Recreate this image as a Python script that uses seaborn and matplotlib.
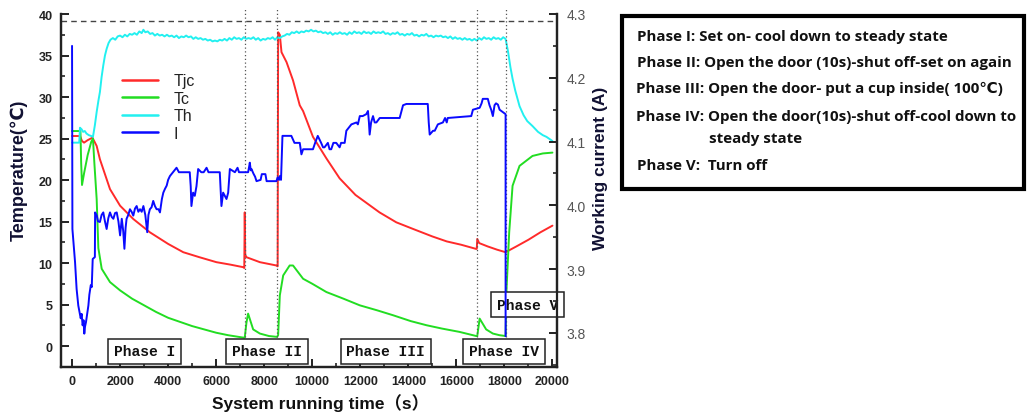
import matplotlib
matplotlib.use("Agg")
import matplotlib.pyplot as plt
import seaborn as sns
import pandas as pd
from matplotlib.patches import Rectangle
from matplotlib.lines import Line2D
from matplotlib.ticker import MultipleLocator

# ---------------- data ----------------
tjc_t = [0, 330, 415, 500, 650, 850, 1025, 1160, 1580, 2000, 2550, 3240, 4000, 4630, 5300, 6010, 6600, 7120, 7170, 7190, 7210,
         7260, 7820, 8510, 8560, 8580, 8650, 8720, 8930, 9200, 9480, 9620, 10030, 10590, 11140, 11800, 12800, 13500, 14200,
         15000, 15600, 16200, 16820, 16850, 16870, 16950, 17300, 17700, 18050, 18500, 19000, 19500, 20000]
tjc_v = [25.3, 25.3, 24.7, 24.5, 24.8, 25.1, 24.1, 22.5, 18.9, 16.9, 15.3, 13.7, 12.3, 11.3, 10.7, 10.1, 9.8, 9.5, 9.4, 16.1, 11.0,
         10.7, 10.1, 9.7, 9.6, 37.8, 37.5, 35.4, 34.2, 32.0, 29.0, 28.3, 25.2, 22.6, 20.2, 18.2, 16.1, 14.9, 14.1,
         13.2, 12.6, 12.2, 11.7, 11.7, 12.9, 12.4, 12.0, 11.6, 11.3, 12.0, 12.8, 13.7, 14.5]

tc_t = [0, 350, 380, 415, 500, 650, 800, 870, 930, 1025, 1095, 1235, 1580, 2000, 2500, 3000, 3500, 4000, 4500, 5000, 5500,
        6000, 6500, 7150, 7190, 7260, 7330, 7540, 7820, 8200, 8530, 8580, 8650, 8790, 9060, 9200, 9620, 10000, 10590,
        11300, 11980, 12700, 13370, 14100, 14760, 15400, 16130, 16830, 16870, 16970, 17240, 17520, 17800, 18050, 18090,
        18200, 18340, 18630, 19170, 19600, 20000]
tc_v = [25.9, 25.9, 22.0, 19.4, 20.8, 23.0, 24.6, 25.0, 22.0, 17.7, 11.8, 9.3, 7.7, 6.7, 5.7, 4.9, 4.1, 3.4, 2.9, 2.4, 2.0,
        1.6, 1.3, 1.0, 1.0, 2.8, 3.9, 2.0, 1.5, 1.2, 1.1, 1.3, 6.1, 8.5, 9.7, 9.7, 8.1, 7.5, 6.5,
        5.7, 4.9, 4.3, 3.7, 3.0, 2.5, 2.1, 1.7, 1.2, 1.2, 3.3, 2.0, 1.5, 1.3, 1.2, 6.9,
        13.7, 19.3, 21.7, 22.9, 23.2, 23.3]

th_points = [(0, 24.5), (300, 24.5), (330, 26.3), (400, 26.1), (460, 25.8), (530, 25.9), (600, 25.6), (700, 25.4), (800, 25.3),
             (870, 25.2), (950, 26.6), (1025, 28.2), (1100, 29.6), (1160, 30.6), (1230, 32.4), (1300, 33.8), (1370, 35.0),
             (1440, 35.8), (1520, 36.5), (1600, 36.9), (1700, 37.1), (1800, 36.9), (1900, 37.3), (2000, 37.4), (2100, 37.2),
             (2200, 37.5), (2300, 37.3), (2400, 37.6), (2500, 37.5), (2600, 37.7), (2700, 37.5), (2800, 37.9), (2900, 37.7),
             (2970, 38.1), (3050, 37.8), (3150, 37.9), (3250, 37.6), (3350, 37.7), (3450, 37.4), (3550, 37.6), (3650, 37.4),
             (3750, 37.5), (3850, 37.3), (3950, 37.5), (4050, 37.3), (4150, 37.4), (4250, 37.2), (4350, 37.4), (4450, 37.1),
             (4550, 37.3), (4650, 37.2), (4750, 37.4), (4850, 37.2), (4950, 37.3), (5050, 37.0), (5150, 37.2), (5250, 37.0),
             (5350, 37.1), (5450, 36.9), (5550, 37.0), (5650, 36.8), (5750, 36.9), (5850, 36.7), (5950, 36.8), (6050, 36.7),
             (6150, 36.9), (6250, 36.8), (6350, 37.0), (6450, 36.8), (6550, 37.1), (6650, 36.9), (6750, 37.2), (6850, 37.0),
             (6950, 37.1), (7050, 36.9), (7150, 37.2), (7250, 37.0), (7350, 37.1), (7450, 37.0), (7550, 37.2), (7650, 36.9),
             (7750, 37.1), (7850, 36.8), (7950, 37.0), (8050, 36.9), (8150, 37.1), (8250, 37.0), (8350, 37.2), (8450, 36.9),
             (8550, 37.2), (8650, 37.1), (8750, 37.3), (8850, 37.4), (8950, 37.6), (9050, 37.5), (9150, 37.8), (9250, 37.7),
             (9350, 37.9), (9450, 37.7), (9550, 37.9), (9650, 37.8), (9750, 38.0), (9850, 37.9), (9950, 38.1), (10050, 37.9),
             (10150, 38.0), (10250, 37.8), (10350, 37.9), (10450, 37.7), (10550, 37.8), (10650, 37.6), (10750, 37.8),
             (10850, 37.5), (10950, 37.7), (11050, 37.6), (11150, 37.8), (11250, 37.6), (11350, 37.7), (11450, 37.5),
             (11550, 37.8), (11650, 37.6), (11750, 37.9), (11850, 37.7), (11950, 37.8), (12050, 37.6), (12150, 37.9),
             (12250, 37.7), (12350, 37.8), (12450, 37.6), (12550, 37.9), (12650, 37.7), (12750, 37.8), (12850, 37.7),
             (12950, 37.9), (13050, 37.6), (13150, 37.7), (13250, 37.5), (13350, 37.7), (13450, 37.6), (13550, 37.8),
             (13650, 37.5), (13750, 37.6), (13850, 37.4), (13950, 37.6), (14050, 37.5), (14150, 37.7), (14250, 37.4),
             (14350, 37.5), (14450, 37.3), (14550, 37.5), (14650, 37.4), (14750, 37.6), (14850, 37.3), (14950, 37.4),
             (15050, 37.2), (15150, 37.4), (15250, 37.3), (15350, 37.4), (15450, 37.2), (15550, 37.3), (15650, 37.1),
             (15750, 37.3), (15850, 37.0), (15950, 37.2), (16050, 37.0), (16150, 37.1), (16250, 36.9), (16350, 37.1),
             (16450, 36.9), (16550, 37.0), (16650, 36.8), (16750, 37.0), (16850, 36.8), (16950, 37.1), (17050, 36.9),
             (17150, 37.2), (17250, 37.0), (17350, 37.1), (17450, 36.9), (17550, 37.2), (17650, 37.0), (17750, 37.1),
             (17850, 36.9), (17950, 37.2), (18050, 37.0), (18150, 35.5), (18250, 33.6), (18340, 32.2), (18450, 30.8),
             (18630, 28.9), (18800, 27.8), (18950, 27.1), (19170, 26.5), (19400, 25.8), (19600, 25.4), (19750, 25.2),
             (20000, 24.7)]

i_points = [(0, 4.250), (15, 3.963), (125, 3.911), (190, 3.869), (260, 3.843), (300, 3.835), (360, 3.823), (400, 3.830),
            (440, 3.812), (480, 3.820), (510, 3.799), (540, 3.810), (580, 3.817), (680, 3.843), (720, 3.860), (780, 3.875),
            (820, 3.872), (860, 3.916), (950, 3.919), (960, 3.989), (1030, 3.984), (1080, 3.975), (1160, 3.974),
            (1230, 3.985), (1300, 3.989), (1370, 3.975), (1440, 3.963), (1510, 3.980), (1580, 3.989), (1650, 3.982),
            (1720, 3.979), (1790, 3.988), (1860, 3.989), (1930, 3.975), (2000, 3.953), (2070, 3.979), (2130, 3.960),
            (2180, 3.932), (2230, 3.965), (2270, 3.979), (2340, 3.985), (2410, 3.994), (2480, 3.990), (2550, 3.984),
            (2620, 3.995), (2690, 3.999), (2760, 3.990), (2830, 3.994), (2900, 3.990), (2970, 3.999), (3050, 3.985),
            (3130, 3.958), (3180, 3.985), (3240, 3.994), (3310, 3.997), (3380, 4.007), (3450, 3.999), (3520, 3.994),
            (3600, 3.994), (3660, 3.989), (3740, 4.010), (3800, 4.020), (3870, 4.026), (3940, 4.031), (4000, 4.040),
            (4075, 4.046), (4200, 4.052), (4350, 4.059), (4450, 4.052), (4900, 4.052), (4940, 4.030), (4970, 3.999),
            (5040, 4.020), (5110, 4.015), (5180, 4.030), (5250, 4.057), (5380, 4.052), (5480, 4.052), (5600, 4.059),
            (5680, 4.052), (6150, 4.052), (6180, 4.030), (6220, 3.999), (6290, 4.020), (6360, 4.015), (6430, 4.010),
            (6500, 4.020), (6570, 4.057), (6780, 4.052), (6890, 4.059), (6950, 4.052), (7330, 4.052), (7370, 4.060),
            (7400, 4.067), (7440, 4.055), (7470, 4.057), (7550, 4.050), (7620, 4.045), (7680, 4.038), (7850, 4.040),
            (7900, 4.049), (8050, 4.049), (8100, 4.038), (8510, 4.038), (8560, 4.044), (8620, 4.040), (8650, 4.046),
            (8700, 4.040), (8760, 4.109), (9130, 4.109), (9260, 4.098), (9480, 4.098), (9550, 4.080), (9620, 4.088),
            (10030, 4.088), (10120, 4.098), (10230, 4.109), (10370, 4.098), (10450, 4.091), (10510, 4.091), (10650, 4.098),
            (10720, 4.088), (10790, 4.088), (10880, 4.098), (11000, 4.098), (11140, 4.091), (11200, 4.098), (11350, 4.098),
            (11420, 4.117), (11630, 4.127), (11840, 4.130), (11900, 4.127), (11980, 4.140), (12100, 4.140), (12250, 4.143),
            (12320, 4.148), (12360, 4.130), (12390, 4.111), (12450, 4.130), (12530, 4.140), (12600, 4.130), (12670, 4.130),
            (12810, 4.137), (13640, 4.137), (13780, 4.157), (13920, 4.159), (14810, 4.159), (14850, 4.130), (14890, 4.111),
            (15030, 4.117), (15100, 4.117), (15230, 4.127), (15440, 4.130), (15530, 4.137), (15600, 4.130), (15640, 4.137),
            (16620, 4.140), (16690, 4.150), (16970, 4.153), (17050, 4.160), (17100, 4.167), (17310, 4.167), (17380, 4.157),
            (17450, 4.150), (17520, 4.140), (17590, 4.157), (17650, 4.160), (17730, 4.158), (17800, 4.150), (17870, 4.148),
            (18050, 4.143), (18050, 3.795)]

series_labels = ["Tjc", "Tc", "Th", "I"]
series_colors = ["#ff2a2a", "#22dd22", "#22f0f0", "#0a0aff"]

x_ticks = list(range(0, 20001, 2000))
t_ticks = list(range(0, 41, 5))
i_ticks = [3.8, 3.9, 4.0, 4.1, 4.2, 4.3]
phase_lines = [7200, 8530, 16860, 18050]
ref_level = 39.15
phase_names = ["Phase I", "Phase II", "Phase III", "Phase IV", "Phase V"]
phase_pos = [(3015, -0.66), (8130, -0.66), (13060, -0.66), (17980, -0.66), (18960, 5.0)]
notes = ["Phase I: Set on- cool down to steady state",
         "Phase II: Open the door (10s)-shut off-set on again",
         "Phase III: Open the door- put a cup inside( 100\u2103)",
         "Phase IV: Open the door(10s)-shut off-cool down to",
         "steady state",
         "Phase V:  Turn off"]

# ---------------- figure ----------------
sns.set_theme(style="white")
plt.rcParams['font.family'] = ['Liberation Sans', 'DejaVu Sans', 'Noto Sans CJK SC']

W, H = 1027, 414
fig = plt.figure(figsize=(W / 100, H / 100), dpi=100)
L, R, T, B = 61, 557, 15, 368
ax = fig.add_axes([L / W, 1 - B / H, (R - L) / W, (B - T) / H])
ax2 = ax.twinx()

df_tjc = pd.DataFrame({"t": tjc_t, "v": tjc_v})
df_tc = pd.DataFrame({"t": tc_t, "v": tc_v})
df_th = pd.DataFrame(th_points, columns=["t", "v"])
df_i = pd.DataFrame(i_points, columns=["t", "v"])

lw = 1.4
for d, c in zip([df_tjc, df_tc, df_th], series_colors[:3]):
    sns.lineplot(data=d, x="t", y="v", ax=ax, color=c, lw=lw, estimator=None, sort=False)
sns.lineplot(data=df_i, x="t", y="v", ax=ax2, color=series_colors[3], lw=lw, estimator=None, sort=False)

ax.set_xlim(-460, 20190)
ax.set_ylim(-2.53, 40)
ax2.set_ylim(3.7467, 4.3)

# reference dashed line and phase separators
ax.axhline(ref_level, color="#444444", lw=1.0, ls=(0, (4, 3)))
for x in phase_lines:
    ax.plot([x, x], [-2.53, 40.6], color="#555555", lw=0.9, ls=(0, (1, 2)), clip_on=False)

# spines
for a in (ax, ax2):
    a.spines["top"].set_visible(False)
    for s in ("left", "right", "bottom"):
        a.spines[s].set_color("#222222")
        a.spines[s].set_linewidth(1.6)
    a.grid(False)
    a.set_facecolor("none")

ax.set_xticks(x_ticks)
ax.xaxis.set_minor_locator(MultipleLocator(1000))
ax.set_yticks(t_ticks)
ax.yaxis.set_minor_locator(MultipleLocator(2.5))
ax2.set_yticks(i_ticks)
ax2.yaxis.set_minor_locator(MultipleLocator(0.05))

ax.tick_params(axis="both", which="major", direction="in", length=6, width=1.4, color="#222222")
ax.tick_params(axis="both", which="minor", direction="in", length=3, width=1.2, color="#222222")
ax.tick_params(axis="x", which="major", labelsize=9, pad=6, bottom=True)
ax.tick_params(axis="y", which="major", labelsize=9, pad=6, left=True)
ax.tick_params(axis="x", which="minor", bottom=True)
ax.tick_params(axis="y", which="minor", left=True)
for lab in ax.get_xticklabels() + ax.get_yticklabels():
    lab.set_fontweight("bold")
    lab.set_color("#222222")
ax2.tick_params(axis="y", which="major", direction="in", length=6, width=1.4, color="#222222",
                labelsize=10, pad=7, labelcolor="#555555", right=True)
ax2.tick_params(axis="y", which="minor", direction="in", length=3, width=1.2, color="#222222", right=True)
ax2.set_yticklabels([f"{v:.1f}" for v in i_ticks])

ax.set_xlabel("System running time\uff08s\uff09", fontsize=12.5, fontweight="bold", color="#111111",
              family=["Liberation Sans", "Noto Sans CJK SC"])
ax.xaxis.set_label_coords(0.524, -0.075)
ax.set_ylabel("Temperature(\u2103)", fontsize=13, fontweight="bold", color="#111133",
              family=["Liberation Sans", "DejaVu Sans"])
ax.yaxis.set_label_coords(-0.068, 0.56)
ax2.set_ylabel("Working current (A)", fontsize=12.5, fontweight="bold", color="#111133")
ax2.yaxis.set_label_coords(1.073, 0.565)

# phase boxes
for name, (px, py) in zip(phase_names, phase_pos):
    ax.text(px, py, name, ha="center", va="center", fontsize=10.5, fontweight="bold",
            family="Liberation Mono", color="#111111", zorder=10, clip_on=False,
            bbox=dict(boxstyle="square,pad=0.4", fc="white", ec="#222222", lw=1.1))

# legend
handles = [Line2D([], [], color=c, lw=1.8) for c in series_colors]
leg = ax2.legend(handles, series_labels, loc="upper left", bbox_to_anchor=(0.111, 0.85),
                 frameon=False, fontsize=11.5, handlelength=2.2, handletextpad=1.0,
                 labelspacing=0.15, borderaxespad=0)
for t in leg.get_texts():
    t.set_color("#222222")

# annotation box on the right
fig.patches.append(Rectangle((622 / W, 1 - 190 / H), (1024 - 622) / W, (190 - 17) / H,
                             transform=fig.transFigure, fill=False, ec="black", lw=3))
note_y = [37, 63, 89, 117, 139, 166]
note_x = [637, 637, 636, 636, 709, 637]
for txt, yy, xx in zip(notes, note_y, note_x):
    fig.text(xx / W, 1 - yy / H, txt, ha="left", va="center", fontsize=10.9, fontweight="bold",
             family=["Open Sans", "DejaVu Sans"], color="#111111")

fig.savefig("out.png", dpi=100)
